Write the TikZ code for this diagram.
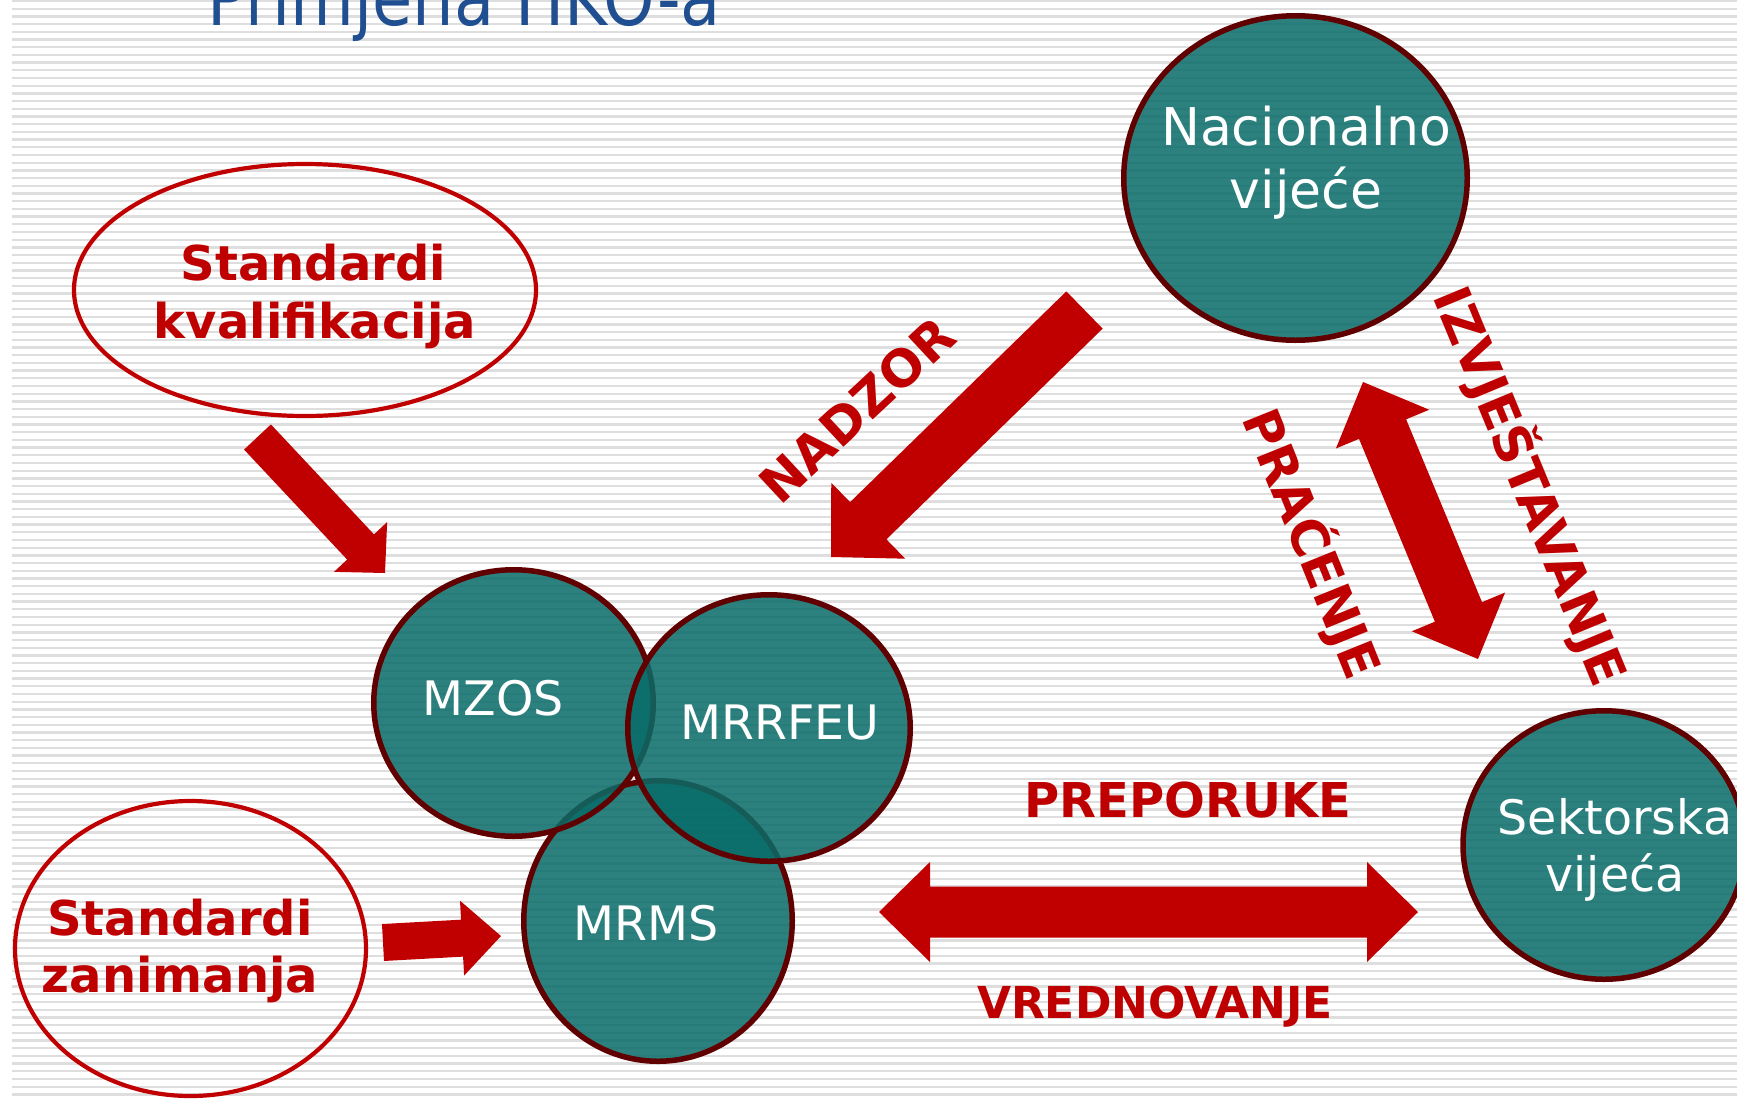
\documentclass[tikz,border=0pt]{standalone}
\usepackage{fontspec}
\setmainfont{DejaVu Sans}
\newfontfamily\titlefont[FakeStretch=0.85]{DejaVu Sans}
\usetikzlibrary{calc,shapes.geometric}
\definecolor{arrowred}{RGB}{192,0,0}
\definecolor{labelred}{RGB}{190,0,0}
\definecolor{titleblue}{RGB}{31,79,145}
\definecolor{bubbleedge}{RGB}{96,0,0}
\definecolor{circteal}{RGB}{8,108,104}
\definecolor{bgline}{RGB}{222,222,222}
% block arrow: start, tip, shaft half width, head half width, head length
\newcommand\blockarrow[5]{%
  \coordinate (bah) at ($(#2)!#5!(#1)$);
  \fill[arrowred] ($(#1)!#3!90:(#2)$) -- ($(bah)!#3!90:(#2)$) -- ($(bah)!#4!90:(#2)$) -- (#2)
    -- ($(bah)!#4!-90:(#2)$) -- ($(bah)!#3!-90:(#2)$) -- ($(#1)!#3!-90:(#2)$) -- cycle;
}
% double block arrow: tip 1, tip 2, shaft half width, head half width, head length
\newcommand\dblockarrow[5]{%
  \coordinate (dba) at ($(#1)!#5!(#2)$);
  \coordinate (dbb) at ($(#2)!#5!(#1)$);
  \fill[arrowred] (#1) -- ($(dba)!#4!90:(#2)$) -- ($(dba)!#3!90:(#2)$) -- ($(dbb)!#3!-90:(#1)$)
    -- ($(dbb)!#4!-90:(#1)$) -- (#2) -- ($(dbb)!#4!90:(#1)$) -- ($(dbb)!#3!90:(#1)$)
    -- ($(dba)!#3!-90:(#2)$) -- ($(dba)!#4!-90:(#2)$) -- cycle;
}
\tikzset{
  bubble/.style={ellipse, draw=bubbleedge, line width=5.5pt, fill=circteal, fill opacity=0.85, draw opacity=1, inner sep=0pt},
  redoval/.style={ellipse, draw=arrowred, line width=4.2pt, inner sep=0pt},
  wlbl/.style={text=white, font=\fontsize{47.5}{56}\selectfont, inner sep=0pt, anchor=base},
  rlbl/.style={text=labelred, font=\bfseries\fontsize{48}{56}\selectfont, inner sep=0pt, anchor=base},
  rotlbl/.style={text=labelred, font=\bfseries\fontsize{51}{60}\selectfont, inner sep=0pt, text height=37pt, text depth=0pt}
}
\begin{document}
\begin{tikzpicture}[x=1pt,y=-1pt]
\useasboundingbox (0,0) rectangle (1737,1101);
\fill[white] (0,0) rectangle (1737,1101);
\foreach \k in {0,...,142} \draw[bgline, line width=2.3pt] (12,{1+7.7*\k}) -- (1737,{1+7.7*\k});

% title
\node[anchor=base west, inner sep=0pt, text=titleblue, font=\titlefont\fontsize{77}{84}\selectfont] (title) at (207,25) {Primjena HKO-a};

% outlined ellipses
\node[redoval, minimum width=462pt, minimum height=252pt] (kval) at (305,290) {};
\node[redoval, minimum width=351pt, minimum height=295pt] (zan) at (190.5,948.5) {};

% arrows
\coordinate (kvA) at (257.5,437);
\coordinate (kvB) at (385,573);
\blockarrow{kvA}{kvB}{18.4pt}{36.4pt}{35.7pt}
\coordinate (zaA) at (383,942.5);
\coordinate (zaB) at (501,936);
\blockarrow{zaA}{zaB}{18.5pt}{37.5pt}{39pt}
\coordinate (naA) at (1084.5,310);
\coordinate (naB) at (831,557);
\blockarrow{naA}{naB}{26pt}{53pt}{52pt}
\coordinate (hoA) at (879,912);
\coordinate (hoB) at (1418,912);
\dblockarrow{hoA}{hoB}{25.5pt}{50pt}{51pt}
\coordinate (veA) at (1363,382);
\coordinate (veB) at (1478,659);
\dblockarrow{veA}{veB}{25.5pt}{50.5pt}{51pt}

% circles
\node[bubble, minimum width=268.5pt, minimum height=280.5pt] (mrms) at (658,921) {};
\node[bubble, minimum width=279.5pt, minimum height=266.5pt] (mzos) at (513.5,703) {};
\node[bubble, minimum width=282.5pt, minimum height=266.5pt] (mrrfeu) at (769,728) {};
\node[bubble, minimum width=282pt, minimum height=268.5pt] (sekt) at (1604,845) {};
\node[bubble, minimum width=343.5pt, minimum height=324.5pt] (nac) at (1295.5,178) {};

% circle labels
\node[wlbl, font=\fontsize{52}{60}\selectfont] (nac1) at (1306,145) {Nacionalno};
\node[wlbl, font=\fontsize{52}{60}\selectfont] (nac2) at (1306,208) {vijeće};
\node[wlbl] (mzost) at (493,715) {MZOS};
\node[wlbl] (mrrfeut) at (780,739) {MRRFEU};
\node[wlbl] (mrmst) at (646,940) {MRMS};
\node[wlbl] (sekt1) at (1615,834) {Sektorska};
\node[wlbl] (sekt2) at (1615,891) {vijeća};

% red labels
\node[rlbl] (kval1) at (313.5,280) {Standardi};
\node[rlbl] (kval2) at (315,338) {kvalifikacija};
\node[rlbl] (zan1) at (180,935) {Standardi};
\node[rlbl] (zan2) at (180,992) {zanimanja};
\node[rlbl] (prep) at (1188,817) {PREPORUKE};
\node[rlbl, font=\bfseries\fontsize{44}{50}\selectfont] (vred) at (1155,1018) {VREDNOVANJE};
\node[rotlbl, rotate=43] (nadzor) at (857,410) {NADZOR};
\node[rotlbl, rotate=-68] (pracenje) at (1312,543.5) {PRAĆENJE};
\node[rotlbl, rotate=-67.5] (izvj) at (1531,486) {IZVJEŠTAVANJE};
\end{tikzpicture}
\end{document}
